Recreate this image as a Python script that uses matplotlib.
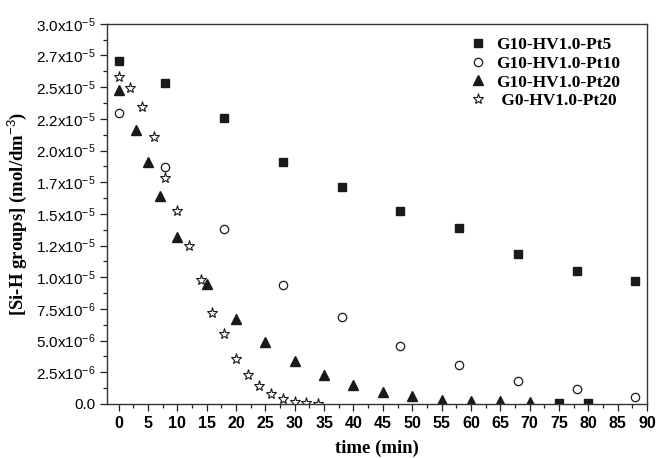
import matplotlib

matplotlib.use("Agg")
import matplotlib.pyplot as plt
from matplotlib.ticker import FixedLocator, FixedFormatter, MultipleLocator

# data (concentration in mol/dm3)
t_pt5 = [0, 8, 18, 28, 38, 48, 58, 68, 78, 88, 75, 80]
c_pt5 = [2.71e-5, 2.53e-5, 2.26e-5, 1.91e-5, 1.71e-5, 1.52e-5, 1.39e-5,
         1.18e-5, 1.05e-5, 0.97e-5, 0.01e-5, 0.01e-5]

t_pt10 = [0, 8, 18, 28, 38, 48, 58, 68, 78, 88]
c_pt10 = [2.30e-5, 1.87e-5, 1.38e-5, 0.94e-5, 0.69e-5, 0.46e-5, 0.31e-5,
          0.18e-5, 0.118e-5, 0.058e-5]

t_pt20 = [0, 3, 5, 7, 10, 15, 20, 25, 30, 35, 40, 45, 50, 55, 60, 65, 70]
c_pt20 = [2.48e-5, 2.16e-5, 1.91e-5, 1.64e-5, 1.32e-5, 0.95e-5, 0.67e-5,
          0.49e-5, 0.34e-5, 0.225e-5, 0.146e-5, 0.095e-5, 0.063e-5,
          0.03e-5, 0.02e-5, 0.02e-5, 0.015e-5]

t_g0 = [0, 2, 4, 6, 8, 10, 12, 14, 16, 18, 20, 22, 24, 26, 28, 30, 32, 34]
c_g0 = [2.58e-5, 2.49e-5, 2.34e-5, 2.11e-5, 1.78e-5, 1.52e-5, 1.25e-5,
        0.98e-5, 0.72e-5, 0.55e-5, 0.355e-5, 0.23e-5, 0.142e-5, 0.079e-5,
        0.04e-5, 0.015e-5, 0.005e-5, 0.0]

y_ticks = [i * 2.5e-6 for i in range(13)]
y_labels = ["0.0", "2.5x10$^{-6}$", "5.0x10$^{-6}$", "7.5x10$^{-6}$",
            "1.0x10$^{-5}$", "1.2x10$^{-5}$", "1.5x10$^{-5}$", "1.7x10$^{-5}$",
            "2.0x10$^{-5}$", "2.2x10$^{-5}$", "2.5x10$^{-5}$", "2.7x10$^{-5}$",
            "3.0x10$^{-5}$"]

plt.rcParams["mathtext.fontset"] = "custom"
plt.rcParams["mathtext.rm"] = "Liberation Sans"
plt.rcParams["mathtext.it"] = "Liberation Sans"

fig = plt.figure(figsize=(6.59, 4.58), dpi=100)
ax = fig.add_axes([0.162, 0.118, 0.820, 0.830])

ax.plot(t_pt5, c_pt5, ls="none", marker="s", ms=5.2, color="#1a1a1a",
        label="G10-HV1.0-Pt5")
ax.plot(t_pt10, c_pt10, ls="none", marker="o", ms=6, mfc="white",
        mec="#1a1a1a", mew=0.9, label="G10-HV1.0-Pt10")
ax.plot(t_pt20, c_pt20, ls="none", marker="^", ms=7, color="#1a1a1a",
        label="G10-HV1.0-Pt20")
ax.plot(t_g0, c_g0, ls="none", marker="*", ms=8, mfc="white",
        mec="#1a1a1a", mew=0.8, label=" G0-HV1.0-Pt20")

ax.set_xlim(-2, 90)
ax.set_ylim(0, 3.0e-5)
ax.xaxis.set_major_locator(MultipleLocator(5))
ax.xaxis.set_minor_locator(MultipleLocator(2.5))
ax.yaxis.set_major_locator(FixedLocator(y_ticks))
ax.yaxis.set_major_formatter(FixedFormatter(y_labels))
ax.yaxis.set_minor_locator(MultipleLocator(1.25e-6))
ax.tick_params(which="both", direction="out", color="#222222")
ax.tick_params(which="major", length=5, width=0.9)
ax.tick_params(which="minor", length=3, width=0.9)
ax.tick_params(axis="x", labelsize=11.5, pad=4)
ax.tick_params(axis="y", labelsize=11, pad=3)
for lab in ax.get_xticklabels():
    lab.set_fontfamily("Liberation Sans")
    lab.set_fontweight("bold")
for lab in ax.get_yticklabels():
    lab.set_fontfamily("Liberation Sans")
for sp in ax.spines.values():
    sp.set_linewidth(1.0)
    sp.set_color("#333333")

ax.set_xlabel("time (min)", fontfamily="Liberation Serif", fontweight="bold",
              fontsize=13.5, labelpad=6)
ax.set_ylabel("[Si-H groups] (mol/dm$^{-3}$)", fontfamily="Liberation Serif",
              fontweight="bold", fontsize=13.5, labelpad=5)

leg = ax.legend(loc="upper right", bbox_to_anchor=(0.975, 1.0), frameon=False,
                handletextpad=0.3, borderaxespad=0.35, labelspacing=0.15,
                handlelength=1.5,
                prop={"family": "Liberation Serif", "weight": "bold", "size": 12.5})

fig.savefig("out.png", dpi=100)
